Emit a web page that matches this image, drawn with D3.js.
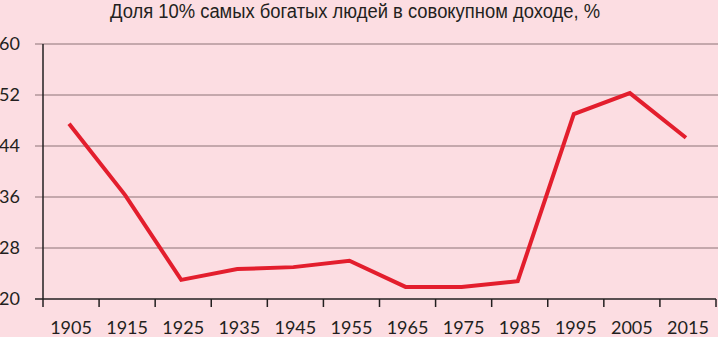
<!DOCTYPE html>
<html>
<head>
<meta charset="utf-8">
<script src="https://cdn.jsdelivr.net/npm/d3@7"></script>
<style>
  body { margin: 0; background: #fcdde2; }
  svg { display: block; }
</style>
</head>
<body>
<div id="chart"></div>
<script>
var chart_width = 718;
var chart_height = 337;

var years = ['1905', '1915', '1925', '1935', '1945', '1955', '1965', '1975', '1985', '1995', '2005', '2015'];
var shares = [47.5, 36.3, 23.0, 24.7, 25.0, 26.0, 21.9, 21.9, 22.8, 49.0, 52.3, 45.3];
var y_ticks = [20, 28, 36, 44, 52, 60];
var title = 'Доля 10% самых богатых людей в совокупном доходе, %';

var svg = d3.select('#chart')
            .append('svg')
            .attr('width', chart_width)
            .attr('height', chart_height);

svg.append('rect')
    .attr('width', chart_width)
    .attr('height', chart_height)
    .attr('fill', '#fcdde2');

//Scales
var x_scale = d3.scaleBand()
                .domain(years)
                .range([43, 716]);

var y_scale = d3.scaleLinear()
                .domain([20, 60])
                .range([299, 44]);

//Grid lines
svg.selectAll('.grid')
    .data(y_ticks.slice(1))
    .enter()
    .append('line')
    .attr('class', 'grid')
    .attr('x1', 35)
    .attr('x2', chart_width)
    .attr('y1', (d) => y_scale(d))
    .attr('y2', (d) => y_scale(d))
    .attr('stroke', '#8c7376')
    .attr('stroke-width', 1);

//Y labels
svg.selectAll('.ylab')
    .data(y_ticks)
    .enter()
    .append('text')
    .attr('class', 'ylab')
    .attr('x', 20)
    .attr('y', (d) => y_scale(d) + 6)
    .attr('text-anchor', 'end')
    .attr('font-family', 'Lato, sans-serif')
    .attr('font-size', 18)
    .attr('fill', '#231f20')
    .text((d) => d);

//X axis line and ticks
svg.append('line')
    .attr('x1', 35)
    .attr('x2', 716)
    .attr('y1', y_scale(20))
    .attr('y2', y_scale(20))
    .attr('stroke', '#231f20')
    .attr('stroke-width', 1.5);

svg.append('line')
    .attr('x1', 43)
    .attr('x2', 43)
    .attr('y1', y_scale(60))
    .attr('y2', y_scale(20) + 8)
    .attr('stroke', '#231f20')
    .attr('stroke-width', 1.5);

svg.selectAll('.xtick')
    .data(years)
    .enter()
    .append('line')
    .attr('class', 'xtick')
    .attr('x1', (d) => x_scale(d) + x_scale.bandwidth())
    .attr('x2', (d) => x_scale(d) + x_scale.bandwidth())
    .attr('y1', y_scale(20))
    .attr('y2', y_scale(20) + 8)
    .attr('stroke', '#231f20')
    .attr('stroke-width', 1.5);

svg.selectAll('.xlab')
    .data(years)
    .enter()
    .append('text')
    .attr('class', 'xlab')
    .attr('x', (d) => x_scale(d) + x_scale.bandwidth() / 2)
    .attr('y', 334)
    .attr('text-anchor', 'middle')
    .attr('font-family', 'Lato, sans-serif')
    .attr('font-size', 18)
    .attr('fill', '#231f20')
    .text((d) => d);

//Line
var line = d3.line()
             .x((d, i) => x_scale(years[i]) + x_scale.bandwidth() / 2 - 2)
             .y((d) => y_scale(d));

svg.append('path')
    .datum(shares)
    .attr('d', line)
    .attr('fill', 'none')
    .attr('stroke', '#e31e2d')
    .attr('stroke-width', 4);

//Title (condensed face squeezed to the original width)
svg.append('text')
    .attr('x', 110)
    .attr('y', 18)
    .attr('font-family', '"Liberation Sans Narrow", "Arial Narrow", sans-serif')
    .attr('font-size', 20)
    .attr('textLength', 490)
    .attr('lengthAdjust', 'spacingAndGlyphs')
    .attr('fill', '#231f20')
    .text(title);
</script>
</body>
</html>
